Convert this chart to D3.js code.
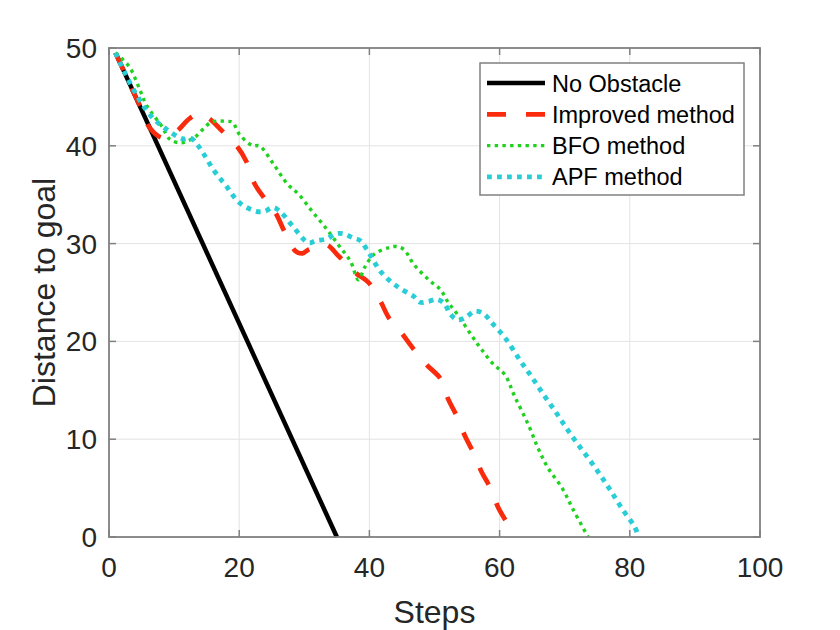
<!DOCTYPE html>
<html>
<head>
<meta charset="utf-8">
<script src="https://cdn.jsdelivr.net/npm/d3@7"></script>
<style>
  html, body { margin: 0; padding: 0; background: #fff; }
  svg { display: block; font-family: "Liberation Sans", Arial, sans-serif; }
</style>
</head>
<body>
<svg id="chart" width="840" height="630"></svg>
<script>
// ---- data ----
const xTicks = [0, 20, 40, 60, 80, 100];
const yTicks = [0, 10, 20, 30, 40, 50];
const seriesNames = ["No Obstacle", "Improved method", "BFO method", "APF method"];

const noObstacleSteps = [1, 35];
const noObstacleDist  = [49.5, 0];

const improvedSteps = [1, 3, 5, 6.3, 8.3, 10.4, 12.4, 14, 15.4, 17.4, 19.6, 21.1, 22.3, 23.9, 25.7, 26.9, 28.7, 29.7, 30.7, 33.3, 35.3, 37.9, 39.9, 41.7, 43.0, 45.0, 46.8, 48.8, 50.9, 52.1, 53.4, 54.7, 56.0, 57.2, 58.6, 59.8, 61.3];
const improvedDist  = [49.5, 46.6, 43.7, 41.8, 40.8, 41.5, 42.8, 43.3, 42.8, 41.5, 40.0, 38.4, 36.2, 34.6, 33.0, 31.3, 29.2, 29.0, 29.4, 29.9, 28.7, 27.0, 26.0, 24.1, 22.4, 20.8, 19.2, 17.6, 16.2, 14.1, 12.4, 10.3, 8.6, 6.7, 5.0, 3.0, 1.3];

const bfoSteps = [1, 2, 3.2, 4.2, 5.0, 5.8, 8.1, 9.3, 10.9, 12.1, 13.4, 15.7, 18.2, 19.0, 20.0, 22.1, 23.1, 25.1, 27.4, 29.2, 31.2, 33.3, 35.3, 37.1, 38.3, 39.3, 40.7, 43.0, 44.2, 45.3, 46.8, 49.1, 50.9, 52.1, 53.7, 55.7, 57.2, 59.0, 60.8, 62.3, 64.4, 65.9, 67.4, 69.7, 71.3, 73.6];
const bfoDist  = [49.5, 48.9, 48.0, 46.6, 45.3, 44.1, 42.0, 40.7, 40.3, 40.5, 41.0, 42.4, 42.5, 42.4, 41.2, 40.0, 40.0, 38.3, 36.1, 35.0, 33.3, 31.6, 29.8, 28.2, 26.3, 27.6, 28.9, 29.6, 29.7, 29.4, 27.9, 26.3, 25.3, 24.0, 22.6, 20.6, 19.2, 17.7, 16.6, 14.4, 11.5, 9.1, 7.1, 4.9, 2.8, 0];

const apfSteps = [1, 2.4, 4.5, 6.5, 8.8, 11.4, 12.5, 13.7, 16.2, 18.0, 20.0, 22.6, 23.9, 25.2, 26.4, 28.2, 30.6, 31.8, 33.5, 34.8, 36.1, 37.4, 38.6, 39.6, 41.9, 44.5, 46.8, 47.8, 49.1, 50.4, 51.6, 52.4, 53.7, 54.9, 56.2, 57.6, 58.8, 60.8, 63.2, 65.0, 66.7, 68.5, 70.2, 72.0, 73.8, 75.6, 77.1, 78.9, 80.7, 81.4];
const apfDist  = [49.5, 47.5, 44.9, 43.0, 41.7, 40.7, 40.8, 40.0, 37.4, 35.9, 34.2, 33.3, 33.3, 33.7, 33.2, 31.8, 30.1, 30.3, 30.5, 31.0, 31.0, 30.6, 30.3, 29.4, 27.0, 25.5, 24.6, 24.0, 24.1, 24.3, 23.8, 22.8, 22.2, 22.5, 23.1, 22.8, 21.9, 20.4, 18.0, 16.3, 14.6, 12.9, 11.2, 9.5, 7.9, 6.2, 4.7, 2.8, 1.1, 0];

// ---- layout ----
const svg = d3.select("#chart");
const L = 109, R = 760, T = 48, B = 537;
const x = d3.scaleLinear().domain([0, 100]).range([L, R]);
const y = d3.scaleLinear().domain([0, 50]).range([B, T]);

const textColor = "#262626";
const axisColor = "#808080";
const gridColor = "#e3e3e3";

// grid
const g = svg.append("g");
g.selectAll(".vg").data(xTicks.slice(1, -1)).enter().append("line")
  .attr("x1", d => x(d)).attr("x2", d => x(d)).attr("y1", T).attr("y2", B)
  .attr("stroke", gridColor).attr("stroke-width", 1);
g.selectAll(".hg").data(yTicks.slice(1, -1)).enter().append("line")
  .attr("y1", d => y(d)).attr("y2", d => y(d)).attr("x1", L).attr("x2", R)
  .attr("stroke", gridColor).attr("stroke-width", 1);

// series
const series = [
  { name: seriesNames[0], xs: noObstacleSteps, ys: noObstacleDist, color: "#000000", width: 4.5, dash: null },
  { name: seriesNames[1], xs: improvedSteps, ys: improvedDist, color: "#fa2a0c", width: 4.7, dash: "19,20" },
  { name: seriesNames[2], xs: bfoSteps, ys: bfoDist, color: "#1ed21e", width: 3.4, dash: "3.4,4.3" },
  { name: seriesNames[3], xs: apfSteps, ys: apfDist, color: "#28cdd6", width: 4.8, dash: "4.8,5.2" }
];

const line = d3.line().x(d => x(d[0])).y(d => y(d[1])).curve(d3.curveCatmullRom.alpha(0.5));

series.forEach(s => {
  const pts = s.xs.map((v, i) => [v, s.ys[i]]);
  svg.append("path")
    .attr("d", line(pts))
    .attr("fill", "none")
    .attr("stroke", s.color)
    .attr("stroke-width", s.width)
    .attr("stroke-dasharray", s.dash)
    .attr("stroke-linecap", "butt")
    .attr("stroke-linejoin", "round");
});

// axes box
const ax = svg.append("g");
ax.append("rect").attr("x", L).attr("y", T).attr("width", R - L).attr("height", B - T)
  .attr("fill", "none").attr("stroke", axisColor).attr("stroke-width", 1.8);

const tl = 7;
xTicks.forEach(t => {
  ax.append("line").attr("x1", x(t)).attr("x2", x(t)).attr("y1", B).attr("y2", B - tl).attr("stroke", axisColor).attr("stroke-width", 1.5);
  ax.append("line").attr("x1", x(t)).attr("x2", x(t)).attr("y1", T).attr("y2", T + tl).attr("stroke", axisColor).attr("stroke-width", 1.5);
});
yTicks.forEach(t => {
  ax.append("line").attr("x1", L).attr("x2", L + tl).attr("y1", y(t)).attr("y2", y(t)).attr("stroke", axisColor).attr("stroke-width", 1.5);
  ax.append("line").attr("x1", R).attr("x2", R - tl).attr("y1", y(t)).attr("y2", y(t)).attr("stroke", axisColor).attr("stroke-width", 1.5);
});

// tick labels
svg.append("g").selectAll("text").data(xTicks).enter().append("text")
  .attr("x", d => x(d)).attr("y", 577)
  .attr("text-anchor", "middle").attr("font-size", 28).attr("fill", textColor)
  .text(d => d);
svg.append("g").selectAll("text").data(yTicks).enter().append("text")
  .attr("x", L - 12).attr("y", d => y(d) + 10)
  .attr("text-anchor", "end").attr("font-size", 28).attr("fill", textColor)
  .text(d => d);

// axis titles
svg.append("text").attr("x", (L + R) / 2).attr("y", 623)
  .attr("text-anchor", "middle").attr("font-size", 32).attr("fill", textColor)
  .text("Steps");
svg.append("text")
  .attr("transform", `translate(55, ${(T + B) / 2}) rotate(-90)`)
  .attr("text-anchor", "middle").attr("font-size", 32).attr("fill", textColor)
  .text("Distance to goal");

// legend
const lg = svg.append("g");
lg.append("rect").attr("x", 480).attr("y", 63).attr("width", 264).attr("height", 132)
  .attr("fill", "#fff").attr("stroke", axisColor).attr("stroke-width", 1.5);
series.forEach((s, i) => {
  const cy = 83 + i * 31.3;
  lg.append("line").attr("x1", 487).attr("x2", 545).attr("y1", cy).attr("y2", cy)
    .attr("stroke", s.color).attr("stroke-width", s.width)
    .attr("stroke-dasharray", s.dash);
  lg.append("text").attr("x", 552).attr("y", cy + 8.5)
    .attr("font-size", 23.5).attr("fill", "#000").text(s.name);
});
</script>
</body>
</html>
